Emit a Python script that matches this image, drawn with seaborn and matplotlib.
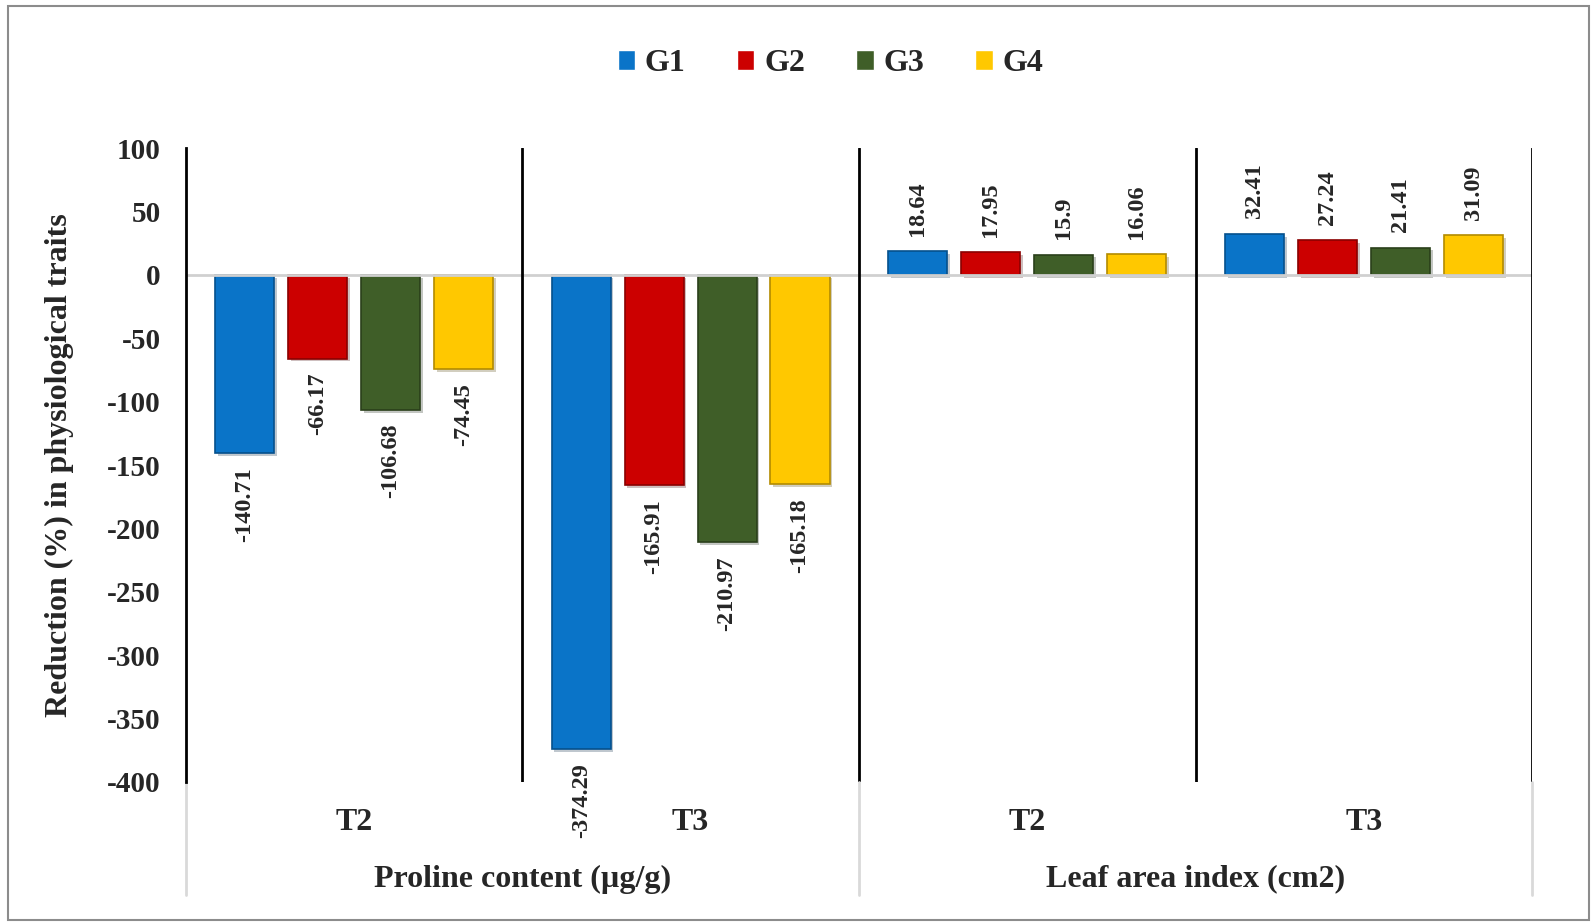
import pandas as pd
import numpy as np
import seaborn as sns
import matplotlib.pyplot as plt
import matplotlib.patheffects as pe
from matplotlib.patches import Rectangle

# data
traits = ['Proline content (µg/g)', 'Leaf area index (cm2)']
treatments = ['T2', 'T3']
genotypes = ['G1', 'G2', 'G3', 'G4']
proline_t2 = [-140.71, -66.17, -106.68, -74.45]
proline_t3 = [-374.29, -165.91, -210.97, -165.18]
lai_t2 = [18.64, 17.95, 15.9, 16.06]
lai_t3 = [32.41, 27.24, 21.41, 31.09]

colors = ['#0a74c8', '#cc0000', '#3f5e28', '#ffc800']
edges = ['#05508c', '#8a0000', '#2a3f1a', '#b38b00']

groups = ['P-T2', 'P-T3', 'L-T2', 'L-T3']
series = [proline_t2, proline_t3, lai_t2, lai_t3]
rows = []
for grp, vals in zip(groups, series):
    for g, v in zip(genotypes, vals):
        rows.append({'group': grp, 'genotype': g, 'value': v})
df = pd.DataFrame(rows)

sns.set_style('white')
plt.rcParams['font.family'] = ['Liberation Serif', 'DejaVu Serif']
plt.rcParams['font.weight'] = 'bold'
plt.rcParams['axes.unicode_minus'] = False

fig = plt.figure(figsize=(15.91, 9.24), dpi=100)
ax = fig.add_axes([0.1167, 0.1537, 0.963 - 0.1167, 0.8398 - 0.1537])

sns.barplot(data=df, x='group', y='value', hue='genotype', order=groups,
            hue_order=genotypes, palette=colors, width=0.867, gap=0.19,
            saturation=1, errorbar=None, ax=ax, legend=True)

shadow = [pe.SimplePatchShadow(offset=(2, -2), alpha=0.25), pe.Normal()]
for i, cont in enumerate(ax.containers):
    for bar in cont:
        bar.set_edgecolor(edges[i])
        bar.set_linewidth(1.2)
        bar.set_path_effects(shadow)
    vals = [s[i] for s in series]
    neg = [f'{v:g}' if v < 0 else '' for v in vals]
    pos = [f'{v:g}' if v >= 0 else '' for v in vals]
    ax.bar_label(cont, labels=neg, padding=10, rotation=90, fontsize=17.5, fontweight='bold')
    ax.bar_label(cont, labels=pos, padding=11, rotation=90, fontsize=17.5, fontweight='bold')

ax.set_ylim(-400, 100)
ax.set_xlim(-0.5, 3.5)
ax.set_yticks(np.arange(-400, 101, 50))
ax.tick_params(axis='y', length=0, pad=18, labelsize=21)
ax.tick_params(axis='x', length=0, pad=19, labelsize=23)
ax.set_xticks(range(4))
ax.set_xticklabels(treatments * 2)
for lab in ax.get_xticklabels() + ax.get_yticklabels():
    lab.set_fontweight('bold')

for s in ['top', 'right', 'bottom']:
    ax.spines[s].set_visible(False)
ax.spines['left'].set_color('black')
ax.spines['left'].set_linewidth(2)

ax.axhline(0, color='#d0d0d0', lw=2, zorder=1)
for xv in [0.5, 1.5, 2.5, 3.5]:
    ax.axvline(xv, color='black', lw=2, zorder=1)

# grey lines under the axis separating the two traits
trans = ax.get_xaxis_transform()
for xv in [-0.5, 1.5, 3.5]:
    ax.plot([xv, xv], [0, -0.178], color='#d9d9d9', lw=2, transform=trans, clip_on=False)
for xc, t in zip([0.5, 2.5], traits):
    ax.text(xc, -0.153, t, transform=trans, ha='center', va='center', fontsize=23, fontweight='bold')

ax.set_xlabel('')
ax.set_ylabel('Reduction (%) in physiological traits', fontsize=23, fontweight='bold')
ax.yaxis.set_label_coords(-0.083, 0.5)

handles, labels = ax.get_legend_handles_labels()
ax.legend_.remove()
fig.legend(handles, labels, loc='center', bbox_to_anchor=(0.522, 0.931), ncol=4,
           frameon=False, handlelength=0.55, handleheight=0.55,
           handletextpad=0.3, columnspacing=1.6, prop={'weight': 'bold', 'size': 23})

fig.patches.append(Rectangle((0.005, 0.004), 0.994, 0.99, transform=fig.transFigure,
                             fill=False, edgecolor='#8c8c8c', lw=1.5))

fig.savefig('out.png', dpi=100)
